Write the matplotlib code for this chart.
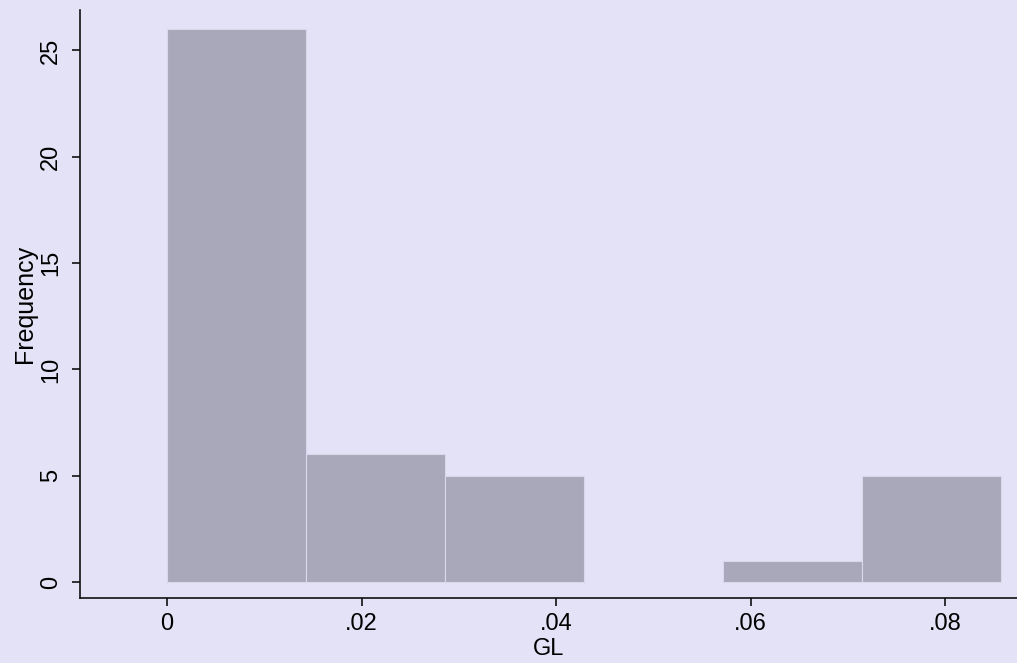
import numpy as np
import matplotlib.pyplot as plt

# histogram of GL: bin edges and counts
bin_edges = [0.0, 0.01429, 0.02857, 0.04286, 0.05714, 0.07143, 0.08571]
counts = [26, 6, 5, 0, 1, 5]
xticks = [0, 0.02, 0.04, 0.06, 0.08]
xticklabels = ['0', '.02', '.04', '.06', '.08']
yticks = [0, 5, 10, 15, 20, 25]

bg = '#e4e2f6'
bar_color = '#a8a8ba'

plt.rcParams['font.family'] = ['Liberation Sans', 'DejaVu Sans']

fig = plt.figure(figsize=(10.17, 6.63), dpi=100, facecolor=bg)
ax = fig.add_axes([80 / 1017, 65 / 663, 937 / 1017, 588 / 663])
ax.set_facecolor(bg)

edges = np.array(bin_edges)
widths = np.diff(edges)
for left, w, c in zip(edges[:-1], widths, counts):
    if c > 0:
        ax.bar(left, c, width=w, align='edge', color=bar_color,
               edgecolor='#d8d8e8', linewidth=0.8)

ax.set_xlim(-0.00895, 0.0874)
ax.set_ylim(-0.75, 26.9)

ax.set_xticks(xticks)
ax.set_xticklabels(xticklabels)
ax.set_yticks(yticks)
ax.set_yticklabels([str(v) for v in yticks], rotation=90, va='center')

ax.spines['top'].set_visible(False)
ax.spines['right'].set_visible(False)
for s in ['left', 'bottom']:
    ax.spines[s].set_linewidth(1.2)
    ax.spines[s].set_color('#111111')

ax.tick_params(axis='both', length=6, width=1.2, labelsize=17, color='#111111')
ax.tick_params(axis='x', pad=5)
ax.tick_params(axis='y', pad=7)

ax.set_xlabel('GL', fontsize=17, labelpad=2)
ax.set_ylabel('Frequency', fontsize=18, labelpad=2)

fig.savefig('out.png', dpi=100, facecolor=bg)
